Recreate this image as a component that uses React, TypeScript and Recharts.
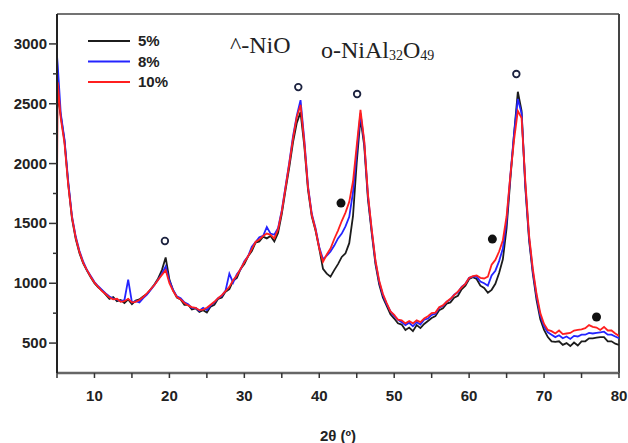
import React from 'react';
import { ComposedChart, Line, Scatter, XAxis, YAxis, ReferenceLine } from 'recharts';

// 2θ positions (degrees)
const twoTheta = [
  5, 5.1, 5.5, 6, 6.5, 7, 7.5, 8, 8.5, 9,
  9.5, 10, 10.5, 11, 11.5, 12, 12.5, 13, 13.5, 14,
  14.5, 15, 15.5, 16, 16.5, 17, 17.5, 18, 18.5, 19,
  19.5, 20, 20.5, 21, 21.5, 22, 22.5, 23, 23.5, 24,
  24.5, 25, 25.5, 26, 26.5, 27, 27.5, 28, 28.5, 29,
  29.5, 30, 30.5, 31, 31.5, 32, 32.5, 33, 33.5, 34,
  34.5, 35, 35.5, 36, 36.5, 37, 37.5, 38, 38.5, 39,
  39.5, 40, 40.5, 41, 41.5, 42, 42.5, 43, 43.5, 44,
  44.5, 45, 45.5, 46, 46.5, 47, 47.5, 48, 48.5, 49,
  49.5, 50, 50.5, 51, 51.5, 52, 52.5, 53, 53.5, 54,
  54.5, 55, 55.5, 56, 56.5, 57, 57.5, 58, 58.5, 59,
  59.5, 60, 60.5, 61, 61.5, 62, 62.5, 63, 63.5, 64,
  64.5, 65, 65.5, 66, 66.5, 67, 67.5, 68, 68.5, 69,
  69.5, 70, 70.5, 71, 71.5, 72, 72.5, 73, 73.5, 74,
  74.5, 75, 75.5, 76, 76.5, 77, 77.5, 78, 78.5, 79,
  79.5, 80,
];

// intensity, 5% sample (black)
const int5 = [
  2450, 2560, 2400, 2190, 1830, 1540, 1370, 1250, 1165, 1105,
  1050, 1000, 965, 940, 905, 870, 885, 850, 860, 835,
  865, 825, 855, 865, 890, 910, 950, 990, 1040, 1110,
  1215, 1030, 940, 880, 865, 820, 820, 780, 790, 760,
  775, 755, 805, 820, 870, 880, 930, 950, 1020, 1045,
  1120, 1160, 1225, 1270, 1340, 1350, 1390, 1375, 1395, 1350,
  1420, 1580, 1780, 1970, 2180, 2340, 2430, 2150, 1780, 1560,
  1440, 1290, 1120, 1080, 1055, 1110, 1160, 1220, 1250, 1335,
  1560, 2010, 2380, 2150, 1700, 1420, 1160, 990, 880, 810,
  740, 705, 665, 655, 610, 630, 600, 650, 625, 660,
  685, 710, 725, 775, 790, 830, 840, 880, 895, 950,
  980, 1035, 1050, 1035, 980, 960, 920, 945, 995, 1085,
  1200, 1460, 1870, 2250, 2600, 2440, 1800, 1360, 1080, 860,
  700, 610, 550, 515, 510, 515, 485, 500, 475, 505,
  480, 515, 515, 540, 540, 545, 550, 550, 515, 515,
  495, 485,
];

// intensity, 8% sample (blue)
const int8 = [
  2900, 2820, 2420, 2200, 1850, 1560, 1390, 1270, 1180, 1110,
  1060, 1010, 975, 945, 915, 890, 870, 865, 850, 860,
  1030, 840, 850, 840, 875, 905, 945, 985, 1030, 1080,
  1140, 1020, 945, 890, 875, 840, 825, 795, 795, 770,
  795, 775, 815, 840, 875, 895, 940, 1080, 1005, 1075,
  1115, 1185, 1225, 1305, 1345, 1385, 1395, 1470, 1415, 1405,
  1460, 1610, 1810, 2010, 2230, 2400, 2530, 2200, 1810, 1580,
  1460, 1300, 1200, 1230, 1265, 1315, 1375, 1415, 1475, 1555,
  1760, 2100, 2420, 2180, 1730, 1440, 1180, 1010, 900, 825,
  765, 725, 695, 675, 650, 670, 640, 675, 655, 695,
  705, 735, 745, 795, 810, 845, 865, 905, 925, 970,
  995, 1045, 1055, 1055, 1015, 1000, 980, 1065, 1105, 1185,
  1290, 1520, 1900, 2250, 2540, 2420, 1820, 1380, 1100, 890,
  730, 640, 590, 570, 550, 565, 540, 555, 535, 560,
  555, 570, 570, 585, 580, 585, 590, 595, 570, 570,
  555, 540,
];

// intensity, 10% sample (red)
const int10 = [
  1850, 2680, 2380, 2170, 1820, 1550, 1380, 1260, 1170, 1110,
  1055, 1005, 970, 935, 910, 880, 865, 870, 845, 850,
  870, 840, 845, 860, 885, 915, 950, 985, 1030, 1070,
  1110, 1000, 935, 885, 865, 835, 815, 800, 795, 775,
  780, 795, 820, 845, 875, 900, 935, 970, 1025, 1065,
  1120, 1175, 1225, 1285, 1345, 1365, 1395, 1415, 1405, 1375,
  1450, 1600, 1800, 2000, 2210, 2390, 2490, 2180, 1800, 1570,
  1450, 1290, 1180, 1240, 1290, 1370, 1440, 1520, 1590, 1680,
  1850, 2150, 2450, 2190, 1740, 1450, 1190, 1020, 910, 835,
  765, 735, 695, 690, 665, 685, 665, 690, 675, 705,
  725, 750, 755, 800, 815, 845, 870, 900, 930, 965,
  995, 1045, 1060, 1065, 1045, 1040, 1055, 1155, 1195, 1265,
  1360, 1560, 1900, 2200, 2440, 2380, 1850, 1400, 1120, 910,
  750, 660, 610, 600, 580, 605, 575, 580, 585, 605,
  610, 615, 625, 650, 635, 630, 610, 635, 605, 605,
  580, 560,
];

// phase markers
const openPeakTheta = [19.4, 37.2, 45.05, 66.3];
const openPeakLevel = [1353, 2639, 2581, 2748];
const solidPeakTheta = [42.9, 63.1, 77.0];
const solidPeakLevel = [1670, 1369, 718];

const xTicks = [5, 10, 15, 20, 25, 30, 35, 40, 45, 50, 55, 60, 65, 70, 75, 80];
const yTicks = [500, 750, 1000, 1250, 1500, 1750, 2000, 2250, 2500, 2750, 3000];

const seriesNames = ['5%', '8%', '10%'];
const seriesColors = ['#1c1c1c', '#2424ff', '#ff1f1f'];

const rows = twoTheta.map((t, i) => ({ t, a: int5[i], b: int8[i], c: int10[i] }));
const openPeaks = openPeakTheta.map((t, i) => ({ t, v: openPeakLevel[i] }));
const solidPeaks = solidPeakTheta.map((t, i) => ({ t, v: solidPeakLevel[i] }));

const W = 620;
const H = 435;
const SANS = '"Liberation Sans", Arial, sans-serif';
const SERIF = '"Liberation Serif", "Times New Roman", serif';

const YTick = (props: any) => {
  const { x, y, payload } = props;
  const axisX = x + 10;
  const major = payload.value % 500 === 0;
  return (
    <g>
      <line x1={axisX - (major ? 8 : 4)} x2={axisX} y1={y} y2={y} stroke="#333" strokeWidth={1.5} />
      {major && (
        <text x={x} y={y} dy={5} textAnchor="end" fontFamily={SANS} fontWeight="bold" fontSize={15} fill="#222">
          {payload.value}
        </text>
      )}
    </g>
  );
};

const XTick = (props: any) => {
  const { x, y, payload } = props;
  if (payload.value % 10 !== 0) return <g />;
  return (
    <text x={x} y={y} dy={11} textAnchor="middle" fontFamily={SANS} fontWeight="bold" fontSize={15} fill="#222">
      {payload.value}
    </text>
  );
};

const OpenMark = (p: any) => (
  <circle cx={p.cx} cy={p.cy} r={3.3} fill="#fff" stroke="#1d2340" strokeWidth={1.8} />
);
const SolidMark = (p: any) => <circle cx={p.cx} cy={p.cy} r={4.5} fill="#111" />;

export default function App() {
  return (
    <div style={{ position: 'absolute', width: W, height: H }}>
      <ComposedChart
        width={W}
        height={H}
        data={rows}
        margin={{ top: 6, right: 9, bottom: 0, left: 0 }}
        style={{ overflow: 'visible' }}
      >
        <XAxis
          dataKey="t"
          type="number"
          domain={[5, 80]}
          ticks={xTicks}
          interval={0}
          height={70}
          tickSize={5}
          tickMargin={12}
          tick={<XTick />}
          tickLine={{ stroke: '#333', strokeWidth: 1.5 }}
          axisLine={{ stroke: '#666', strokeWidth: 2.5 }}
          allowDataOverflow
        />
        <YAxis
          type="number"
          domain={[250, 3250]}
          ticks={yTicks}
          interval={0}
          width={49}
          tickSize={8}
          tickMargin={2}
          tick={<YTick />}
          tickLine={false}
          axisLine={{ stroke: '#222', strokeWidth: 2 }}
          allowDataOverflow
        />
        <ReferenceLine y={3250} stroke="#444" strokeWidth={1.5} />
        <ReferenceLine x={80} stroke="#444" strokeWidth={2} />
        <Line dataKey="a" stroke={seriesColors[0]} strokeWidth={1.8} dot={false} isAnimationActive={false} />
        <Line dataKey="b" stroke={seriesColors[1]} strokeWidth={1.8} dot={false} isAnimationActive={false} />
        <Line dataKey="c" stroke={seriesColors[2]} strokeWidth={1.8} dot={false} isAnimationActive={false} />
        <Scatter data={openPeaks} dataKey="v" shape={OpenMark} isAnimationActive={false} />
        <Scatter data={solidPeaks} dataKey="v" shape={SolidMark} isAnimationActive={false} />
      </ComposedChart>
      <svg
        width={W}
        height={H}
        style={{ position: 'absolute', left: 0, top: 0, pointerEvents: 'none', overflow: 'visible' }}
      >
        {seriesNames.map((name, i) => (
          <g key={name}>
            <line x1={80} x2={122} y1={33 + i * 20.5} y2={33 + i * 20.5} stroke={seriesColors[i]} strokeWidth={2} />
            <text x={130} y={33 + i * 20.5} dy={5} fontFamily={SANS} fontWeight="bold" fontSize={15} fill="#222">
              {name}
            </text>
          </g>
        ))}
        <text x={222} y={45} fontFamily={SERIF} fontSize={24} fill="#222">
          ^-NiO
        </text>
        <text x={313} y={50} fontFamily={SERIF} fontSize={24} fill="#222">
          o-NiAl
          <tspan fontSize={14} dy={2}>32</tspan>
          <tspan fontSize={24} dy={-2}>O</tspan>
          <tspan fontSize={14} dy={2}>49</tspan>
        </text>
        <text x={330} y={433} textAnchor="middle" fontFamily={SANS} fontWeight="bold" fontSize={15} fill="#222">
          2θ (º)
        </text>
      </svg>
    </div>
  );
}
